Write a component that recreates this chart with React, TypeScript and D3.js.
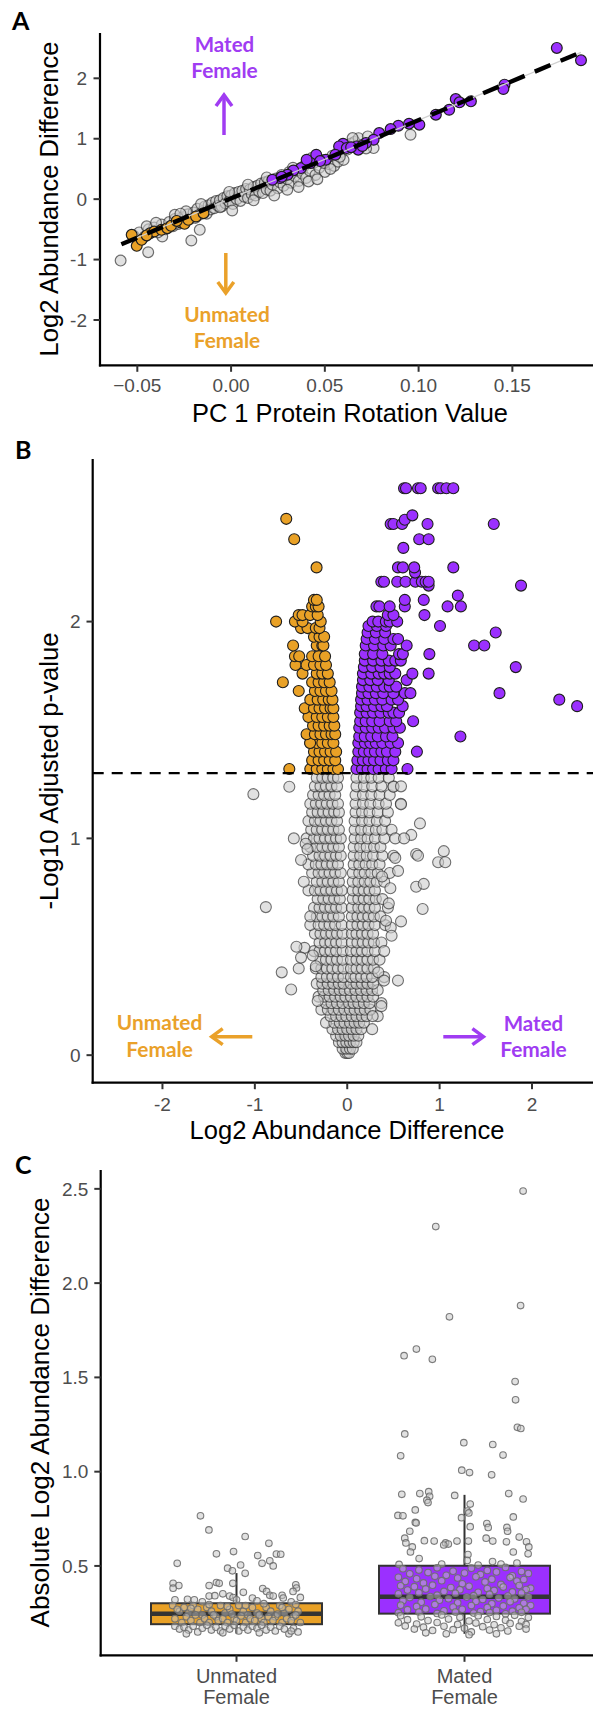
import React from "react";
import * as d3 from "d3";

// ---------------- Panel A data ----------------
const aTicksX = [-0.05, 0.0, 0.05, 0.1, 0.15];
const aTicksY = [-2, -1, 0, 1, 2];
const aFitLine = [[-0.0585, -0.746], [0.1866, 2.43]];
const aGray = [
  [-0.0589,-1.017],[-0.0442,-0.878],[-0.0367,-0.619],[-0.0212,-0.685],[-0.0167,-0.508],
  [-0.052,-0.6],[-0.049,-0.55],[-0.046,-0.62],[-0.044,-0.5],[-0.041,-0.47],[-0.039,-0.55],[-0.037,-0.42],
  [-0.035,-0.5],[-0.033,-0.38],[-0.031,-0.45],[-0.03,-0.33],[-0.028,-0.41],[-0.026,-0.3],[-0.025,-0.38],
  [-0.023,-0.25],[-0.022,-0.33],[-0.02,-0.22],[-0.019,-0.31],[-0.018,-0.16],[-0.017,-0.26],[-0.015,-0.2],
  [-0.014,-0.12],[-0.013,-0.24],[-0.012,-0.1],[-0.011,-0.17],[-0.01,-0.06],[-0.009,-0.15],[-0.008,-0.03],
  [-0.007,-0.11],[-0.006,-0.02],[-0.005,-0.12],[-0.004,0.02],[-0.003,-0.07],[-0.002,0.05],[-0.001,-0.04],
  [0.0,0.06],[0.001,-0.08],[0.002,0.1],[0.003,0.0],[0.004,0.12],[0.005,-0.03],[0.006,0.14],[0.007,0.04],
  [0.008,0.17],[0.009,0.02],[0.01,0.16],[0.011,0.08],[0.012,0.2],[0.013,0.06],[0.014,0.22],[0.015,0.12],
  [0.016,0.26],[0.017,0.1],[0.018,0.28],[0.019,0.16],[0.02,0.3],[0.021,0.14],[0.022,0.24],[0.024,0.34],
  [0.025,0.18],[0.026,0.28],[0.027,0.4],[0.028,0.22],[0.03,0.33],[0.031,0.45],[0.032,0.27],[0.034,0.38],
  [0.035,0.48],[0.036,0.3],[0.038,0.42],[0.039,0.55],[0.04,0.35],[0.042,0.47],[0.044,0.6],[0.045,0.4],
  [0.047,0.52],[0.049,0.65],[0.05,0.45],[0.052,0.58],[0.054,0.72],[0.055,0.55],[0.057,0.62],[0.059,0.78],
  [0.06,0.65],[0.062,0.82],[0.064,0.92],[0.066,0.95],[0.068,1.01],[0.0648,1.011],[0.0729,1.039],
  [0.076,0.845],[0.0957,1.066],[0.072,0.84],[0.07,0.9],[0.0495,0.597],[0.0413,0.293],[0.03,0.155],
  [0.0006,-0.188],[-0.0059,-0.133],[-0.024,-0.2],[-0.03,-0.26],[-0.045,-0.45],
  [-0.04,-0.39],[-0.027,-0.24],[-0.016,-0.08],[-0.001,0.12],[0.009,0.24],[0.019,0.36],[0.033,0.52],
  [0.043,0.68],[0.053,0.5],[0.058,0.7],[0.023,0.06],[0.012,-0.02],[0.036,0.2],[0.046,0.33]
];
const aOrange = [
  [-0.053,-0.591],[-0.0503,-0.773],[-0.0477,-0.674],[-0.0432,-0.564],[-0.041,-0.536],[-0.0371,-0.508],
  [-0.034,-0.48],[-0.032,-0.442],[-0.0269,-0.387],[-0.0248,-0.409],[-0.0228,-0.343],[-0.0187,-0.287],
  [-0.0147,-0.232],[-0.045,-0.6],[-0.029,-0.36]
];
const aPurple = [
  [0.1737,2.503],[0.1866,2.298],[0.1458,1.895],[0.1452,1.823],[0.1198,1.657],[0.1218,1.602],[0.1279,1.619],
  [0.1163,1.48],[0.1092,1.398],[0.1004,1.232],[0.0949,1.249],[0.0892,1.215],[0.0851,1.16],[0.079,1.094],
  [0.076,0.983],[0.0719,0.928],[0.0668,0.873],[0.0597,0.917],[0.0576,0.873],[0.0556,0.735],[0.0505,0.652],
  [0.0454,0.735],[0.0424,0.597],[0.0373,0.514],[0.0332,0.475],[0.0301,0.403],[0.0261,0.348],[0.022,0.32],
  [0.0678,0.818],[0.0617,0.845],[0.0403,0.652],[0.064,0.86],[0.07,0.88],[0.0475,0.63],[0.027,0.37]
];

// ---------------- Panel B data ----------------
const bTicksX = [-2, -1, 0, 1, 2];
const bTicksY = [0, 1, 2];
const bThreshold = 1.301;
const bGrayRows = [
  [0.01,[-0.02,0.0,0.02]],
  [0.03,[-0.05,-0.01,0.03,0.06]],
  [0.06,[-0.09,-0.05,-0.01,0.03,0.07,0.1]],
  [0.09,[-0.12,-0.07,-0.02,0.02,0.07,0.12]],
  [0.12,[-0.16,-0.1,-0.05,0.0,0.05,0.1,0.15,0.27]],
  [0.15,[-0.23,-0.14,-0.08,-0.03,0.03,0.08,0.13,0.18]],
  [0.18,[-0.18,-0.12,-0.06,-0.01,0.05,0.1,0.16,0.21,0.33]],
  [0.21,[-0.28,-0.21,-0.15,-0.09,-0.03,0.03,0.08,0.14,0.19,0.25]],
  [0.24,[-0.23,-0.17,-0.11,-0.05,0.02,0.07,0.12,0.18,0.24,0.37]],
  [0.27,[-0.31,-0.25,-0.19,-0.13,-0.07,-0.02,0.04,0.1,0.16,0.22,0.28]],
  [0.3,[-0.26,-0.2,-0.14,-0.08,-0.03,0.03,0.09,0.15,0.21,0.27,0.33]],
  [0.33,[-0.33,-0.27,-0.21,-0.15,-0.09,-0.04,0.04,0.1,0.16,0.22,0.28]],
  [0.36,[-0.28,-0.22,-0.16,-0.1,-0.04,0.04,0.09,0.15,0.21,0.27,0.4]],
  [0.4,[-0.34,-0.28,-0.22,-0.16,-0.1,-0.04,0.04,0.1,0.16,0.22,0.29]],
  [0.44,[-0.29,-0.23,-0.17,-0.11,-0.05,0.04,0.1,0.16,0.22,0.28,0.35]],
  [0.48,[-0.36,-0.3,-0.24,-0.18,-0.12,-0.05,0.04,0.1,0.16,0.22,0.3]],
  [0.52,[-0.3,-0.24,-0.18,-0.12,-0.06,0.05,0.11,0.17,0.23,0.29,0.37]],
  [0.56,[-0.35,-0.29,-0.23,-0.17,-0.11,-0.05,0.05,0.1,0.16,0.22,0.28]],
  [0.6,[-0.4,-0.31,-0.25,-0.19,-0.13,-0.06,0.05,0.11,0.17,0.23,0.3,0.41]],
  [0.64,[-0.33,-0.27,-0.21,-0.15,-0.09,0.05,0.11,0.17,0.23,0.29,0.36]],
  [0.68,[-0.36,-0.3,-0.24,-0.18,-0.12,-0.06,0.05,0.12,0.18,0.24,0.3,0.44]],
  [0.72,[-0.32,-0.26,-0.2,-0.14,-0.08,0.06,0.12,0.18,0.24,0.31,0.38]],
  [0.76,[-0.42,-0.35,-0.29,-0.23,-0.17,-0.11,-0.06,0.06,0.12,0.18,0.24,0.3]],
  [0.8,[-0.33,-0.27,-0.21,-0.15,-0.09,0.06,0.12,0.19,0.25,0.32,0.4]],
  [0.84,[-0.38,-0.31,-0.25,-0.19,-0.13,-0.07,0.06,0.13,0.19,0.26,0.33,0.46]],
  [0.88,[-0.42,-0.34,-0.28,-0.22,-0.16,-0.1,0.07,0.13,0.2,0.27,0.35]],
  [0.92,[-0.37,-0.3,-0.24,-0.18,-0.12,-0.07,0.07,0.14,0.21,0.28,0.38,0.5]],
  [0.96,[-0.4,-0.33,-0.27,-0.21,-0.15,-0.09,0.07,0.14,0.21,0.29,0.36]],
  [1.0,[-0.44,-0.36,-0.3,-0.24,-0.18,-0.12,-0.07,0.08,0.15,0.22,0.3,0.4]],
  [1.04,[-0.39,-0.33,-0.27,-0.21,-0.15,-0.09,0.08,0.15,0.23,0.31,0.38,0.48]],
  [1.08,[-0.42,-0.35,-0.29,-0.23,-0.17,-0.11,0.08,0.16,0.24,0.32,0.41]],
  [1.12,[-0.38,-0.32,-0.26,-0.2,-0.14,-0.09,0.09,0.16,0.24,0.33,0.44]],
  [1.16,[-0.4,-0.34,-0.28,-0.22,-0.16,-0.1,0.09,0.17,0.25,0.34,0.42,0.58]],
  [1.2,[-0.37,-0.31,-0.25,-0.19,-0.13,0.09,0.17,0.26,0.35,0.46]],
  [1.24,[-0.35,-0.29,-0.23,-0.17,-0.11,0.1,0.18,0.27,0.37,0.5]],
  [1.28,[-0.33,-0.27,-0.21,-0.15,-0.1,0.1,0.18,0.26,0.34,0.45]]
];
const bGrayOut = [
  [-1.016,1.204],[-0.627,1.238],[-0.881,0.683],[-0.578,1.0],[-0.45,0.975],[-0.43,0.95],[-0.463,0.495],
  [-0.373,0.46],[-0.34,0.41],[-0.709,0.382],[-0.525,0.4],[-0.607,0.303],[-0.32,0.25],[-0.4,0.64],
  [0.5,1.238],[0.582,1.24],[0.582,1.157],[0.787,1.069],[0.693,1.016],[0.52,1.0],[0.615,1.0],[1.045,0.941],
  [0.746,0.928],[0.766,0.92],[0.984,0.89],[1.061,0.89],[0.52,0.91],[0.746,0.777],[0.828,0.79],[0.467,0.77],
  [0.816,0.674],[0.582,0.617],[0.471,0.589],[0.48,0.551],[0.336,0.382],[0.549,0.344],[0.398,0.344],
  [0.369,0.226],[0.275,0.18],[-0.55,0.5],[-0.5,0.45],[0.4,0.48],[0.45,0.7],[0.55,0.85],[-0.47,0.8],
  [-0.5,0.9],[0.377,0.824],[0.42,0.62]
];
const bOrangeRows = [
  [1.32,[-0.4,-0.33,-0.27,-0.21,-0.15,-0.1,-0.627]],
  [1.36,[-0.38,-0.31,-0.25,-0.19,-0.13]],
  [1.4,[-0.36,-0.3,-0.24,-0.18,-0.12]],
  [1.44,[-0.4,-0.33,-0.27,-0.21,-0.15,-0.402]],
  [1.48,[-0.44,-0.35,-0.29,-0.23,-0.17,-0.13]],
  [1.52,[-0.37,-0.31,-0.25,-0.19,-0.14]],
  [1.56,[-0.42,-0.33,-0.27,-0.21,-0.15]],
  [1.6,[-0.46,-0.36,-0.3,-0.24,-0.18,-0.15]],
  [1.64,[-0.4,-0.32,-0.26,-0.2,-0.16]],
  [1.68,[-0.525,-0.35,-0.29,-0.23,-0.17]],
  [1.72,[-0.697,-0.38,-0.31,-0.25,-0.19]],
  [1.76,[-0.484,-0.33,-0.27,-0.21]],
  [1.8,[-0.56,-0.44,-0.36,-0.29,-0.23]],
  [1.84,[-0.566,-0.52,-0.38,-0.31,-0.24]],
  [1.89,[-0.586,-0.33,-0.27,-0.258]],
  [1.93,[-0.36,-0.3,-0.25]],
  [1.97,[-0.5,-0.43,-0.34,-0.3]],
  [2.0,[-0.77,-0.566,-0.484,-0.287]],
  [2.03,[-0.525,-0.484,-0.402,-0.32]],
  [2.07,[-0.38,-0.34,-0.31]],
  [2.1,[-0.36,-0.33]],
  [2.25,[-0.332]],
  [2.38,[-0.574]],
  [2.474,[-0.66]]
];
const bPurpleRows = [
  [1.32,[0.1,0.16,0.22,0.28,0.34,0.418,0.48,0.652]],
  [1.36,[0.11,0.17,0.23,0.29,0.36,0.44,0.5]],
  [1.4,[0.12,0.18,0.24,0.3,0.37,0.43,0.52,0.754]],
  [1.44,[0.12,0.19,0.25,0.31,0.38,0.47,0.55]],
  [1.47,[0.13,0.19,0.26,0.33,0.42,0.49,1.225]],
  [1.51,[0.13,0.2,0.27,0.34,0.41,0.5,0.57]],
  [1.54,[0.14,0.2,0.27,0.35,0.46,0.53,0.713]],
  [1.58,[0.14,0.21,0.28,0.36,0.45,0.5,0.561]],
  [1.61,[0.15,0.21,0.29,0.37,0.43,0.6,2.488]],
  [1.64,[0.15,0.22,0.3,0.38,0.48,0.55,2.295]],
  [1.67,[0.16,0.23,0.31,0.39,0.5,0.623,0.684,1.648]],
  [1.7,[0.16,0.24,0.32,0.4,0.46,0.53]],
  [1.73,[0.17,0.25,0.33,0.45,0.643]],
  [1.76,[0.17,0.26,0.34,0.4,0.46,0.52,0.705,0.881]],
  [1.79,[0.18,0.27,0.36,0.46,1.824]],
  [1.82,[0.19,0.28,0.37,0.45,0.52,0.58]],
  [1.85,[0.19,0.28,0.38,0.561,0.602,0.889]],
  [1.89,[0.2,0.29,0.39,0.47,0.643,1.373,1.484]],
  [1.92,[0.21,0.3,0.4,0.5,0.55]],
  [1.95,[0.22,0.31,0.41,1.607]],
  [1.98,[0.23,0.32,0.42,1.004]],
  [2.0,[0.275,0.336,0.418,0.459,0.541]],
  [2.03,[0.439,0.5,0.836]],
  [2.07,[0.316,0.348,0.459,0.623,1.086,1.23]],
  [2.1,[0.623,0.828]],
  [2.12,[1.197]],
  [2.166,[0.881,1.881]],
  [2.184,[0.369,0.398,0.541,0.631,0.738,0.807,0.848,0.881]],
  [2.226,[0.734]],
  [2.25,[0.549,0.602,0.725,1.148]],
  [2.34,[0.607]],
  [2.38,[0.779,0.881]],
  [2.45,[0.47,0.5,0.594,0.869,1.586]],
  [2.47,[0.623]],
  [2.49,[0.705]],
  [2.615,[0.615,0.636,0.766,0.795,0.984,1.012,1.074,1.148]]
];

// ---------------- Panel C data ----------------
const cCategories = [["Unmated", "Female"], ["Mated", "Female"]];
const cTicksY = [0.5, 1.0, 1.5, 2.0, 2.5];
const cBoxes = [
  { lo: 0.142, q1: 0.191, med: 0.247, q3: 0.302, hi: 0.462 },
  { lo: 0.14, q1: 0.247, med: 0.336, q3: 0.501, hi: 0.877 }
];
const cUnmated = [
  [-0.158,0.766],[-0.121,0.691],[0.038,0.656],[0.142,0.62],[-0.088,0.564],[-0.013,0.576],[0.093,0.555],
  [0.175,0.563],[0.194,0.562],[-0.26,0.514],[0.112,0.514],[0.146,0.527],[0.161,0.5],[0.018,0.505],
  [-0.039,0.488],[-0.018,0.474],[0.038,0.461],[-0.016,0.408],[-0.278,0.408],[-0.253,0.396],[-0.278,0.382],
  [-0.12,0.396],[-0.088,0.412],[-0.076,0.408],[0.115,0.38],[0.132,0.365],[0.146,0.344],[0.161,0.34],
  [0.26,0.4],[0.263,0.383],[0.248,0.365],[0.28,0.333],[0.2,0.344],[0.205,0.33],[-0.12,0.34],[-0.095,0.342],
  [-0.06,0.352],[-0.03,0.34],[-0.015,0.332],[-0.27,0.32],[-0.215,0.323],[-0.185,0.32],[0.03,0.36],
  [0.07,0.33],[0.09,0.315],[0.24,0.31],[-0.15,0.31],[0.0,0.32],
  [-0.28,0.29],[-0.25,0.26],[-0.23,0.28],[-0.21,0.25],[-0.19,0.29],[-0.17,0.27],[-0.15,0.24],[-0.13,0.28],
  [-0.11,0.26],[-0.09,0.23],[-0.07,0.29],[-0.05,0.25],[-0.03,0.27],[-0.01,0.22],[0.01,0.29],[0.03,0.26],
  [0.05,0.24],[0.07,0.28],[0.09,0.25],[0.11,0.22],[0.13,0.28],[0.15,0.26],[0.17,0.23],[0.19,0.29],
  [0.21,0.25],[0.23,0.27],[0.25,0.23],[0.27,0.26],
  [-0.27,0.22],[-0.24,0.2],[-0.22,0.23],[-0.2,0.21],[-0.18,0.24],[-0.16,0.2],[-0.14,0.22],[-0.12,0.2],
  [-0.1,0.24],[-0.08,0.21],[-0.06,0.22],[-0.04,0.2],[-0.02,0.245],[0.0,0.21],[0.02,0.235],[0.04,0.2],
  [0.06,0.22],[0.08,0.21],[0.1,0.24],[0.12,0.2],[0.14,0.23],[0.16,0.21],[0.18,0.245],[0.2,0.2],
  [0.22,0.22],[0.24,0.21],[0.26,0.24],[0.28,0.2],
  [-0.26,0.27],[-0.2,0.275],[-0.12,0.295],[-0.04,0.285],[0.04,0.29],[0.12,0.3],[0.2,0.28],[0.26,0.295],
  [-0.27,0.18],[-0.25,0.165],[-0.23,0.175],[-0.21,0.16],[-0.19,0.18],[-0.17,0.15],[-0.15,0.17],
  [-0.13,0.185],[-0.11,0.16],[-0.09,0.175],[-0.07,0.155],[-0.05,0.18],[-0.03,0.165],[-0.01,0.185],
  [0.01,0.155],[0.03,0.175],[0.05,0.16],[0.07,0.18],[0.09,0.17],[0.11,0.185],[0.13,0.16],[0.15,0.175],
  [0.17,0.155],[0.19,0.18],[0.21,0.165],[0.23,0.14],[0.25,0.17],[0.27,0.15],[-0.22,0.14],[-0.06,0.145],
  [0.1,0.145],[0.24,0.155]
];
const cMated = [
  [0.257,2.488],[-0.126,2.3],[0.246,1.881],[-0.066,1.821],[-0.211,1.65],[-0.265,1.615],[-0.141,1.596],
  [0.222,1.478],[0.224,1.381],[0.232,1.235],[0.247,1.229],[-0.262,1.2],[-0.003,1.154],[0.124,1.144],
  [0.169,1.088],[-0.28,1.084],[-0.012,1.008],[0.022,0.995],[0.119,0.983],[-0.275,0.88],[-0.196,0.884],
  [-0.157,0.894],[-0.153,0.869],[-0.165,0.849],[-0.16,0.836],[-0.043,0.874],[0.194,0.884],[0.257,0.855],
  [0.025,0.828],[0.012,0.791],[0.019,0.781],[-0.216,0.797],[-0.292,0.768],[-0.27,0.766],[-0.013,0.756],
  [0.214,0.76],[-0.216,0.731],[-0.212,0.728],[0.025,0.708],[0.098,0.725],[0.104,0.704],[0.186,0.704],
  [0.189,0.684],[-0.24,0.684],[0.24,0.653],[0.272,0.628],[0.095,0.647],[0.124,0.632],[-0.262,0.647],
  [-0.257,0.622],[-0.176,0.634],[-0.133,0.632],[-0.083,0.622],[-0.071,0.616],[-0.091,0.611],[-0.033,0.632],
  [0.017,0.632],[0.184,0.628],[0.282,0.601],[-0.229,0.601],[-0.237,0.574],[0.214,0.574],[0.279,0.564],
  [-0.199,0.539],[0.015,0.56],[0.012,0.529],[0.123,0.523],[-0.287,0.508],[-0.1,0.51],[0.06,0.505],
  [0.16,0.51],[0.23,0.515],
  [-0.27,0.485],[-0.2,0.478],[-0.12,0.49],[-0.05,0.472],[0.03,0.488],[0.1,0.476],[0.18,0.492],[0.25,0.47],
  [-0.24,0.458],[-0.16,0.465],[-0.08,0.45],[0.0,0.462],[0.07,0.455],[0.14,0.468],[0.21,0.448],[0.28,0.46],
  [-0.29,0.44],[-0.21,0.432],[-0.13,0.445],[-0.03,0.436],[0.05,0.442],[0.12,0.43],[0.2,0.438],[0.26,0.428],
  [-0.26,0.418],[-0.18,0.41],[-0.1,0.422],[-0.01,0.405],[0.09,0.415],[0.16,0.402],[0.23,0.42],
  [-0.28,0.395],[-0.22,0.39],[-0.14,0.398],[-0.06,0.385],[0.02,0.392],[0.1,0.38],[0.17,0.388],[0.24,0.396],
  [0.29,0.382],[-0.25,0.372],[-0.17,0.378],[-0.09,0.365],[-0.02,0.374],[0.06,0.36],[0.13,0.37],[0.21,0.362],
  [0.27,0.375],[-0.29,0.352],[-0.2,0.358],[-0.12,0.345],[-0.04,0.355],[0.04,0.342],[0.11,0.35],[0.19,0.34],
  [0.25,0.356],[-0.24,0.332],[-0.15,0.338],[-0.07,0.326],[0.01,0.335],[0.08,0.322],[0.15,0.33],[0.22,0.325],
  [0.28,0.336],[-0.27,0.315],[-0.19,0.308],[-0.11,0.318],[-0.03,0.305],[0.05,0.312],[0.12,0.3],[0.2,0.31],
  [0.26,0.302],[-0.28,0.292],[-0.21,0.285],[-0.13,0.295],[-0.05,0.282],[0.03,0.29],[0.1,0.28],[0.17,0.288],
  [0.24,0.278],[0.29,0.29],[-0.25,0.268],[-0.17,0.272],[-0.09,0.262],[-0.01,0.27],[0.07,0.258],[0.14,0.265],
  [0.21,0.26],[0.27,0.27],[-0.29,0.252],[-0.2,0.255],[-0.12,0.248],[-0.04,0.255],[0.04,0.25],[0.11,0.253],
  [0.18,0.246],[0.25,0.254],
  [-0.28,0.236],[-0.19,0.23],[-0.1,0.24],[-0.02,0.228],[0.06,0.236],[0.14,0.232],[0.22,0.238],[0.28,0.226],
  [-0.25,0.215],[-0.16,0.21],[-0.07,0.218],[0.02,0.208],[0.1,0.216],[0.18,0.212],[0.25,0.205],
  [-0.29,0.198],[-0.21,0.192],[-0.12,0.2],[-0.03,0.19],[0.05,0.197],[0.13,0.188],[0.2,0.195],[0.27,0.19],
  [-0.26,0.182],[-0.18,0.175],[-0.09,0.18],[0.0,0.17],[0.08,0.178],[0.16,0.172],[0.24,0.18],
  [-0.22,0.165],[-0.14,0.158],[-0.05,0.162],[0.03,0.15],[0.11,0.16],[0.19,0.155],[0.27,0.165],
  [-0.17,0.145],[-0.08,0.14],[0.02,0.135],[0.14,0.14]
];

// ---------------- styling ----------------
const PURPLE = "#9B30FF";
const ORANGE = "#E9A126";
const PURPLE_TXT = "#A03CF2";
const ORANGE_TXT = "#EAA12A";
const SANS = "Liberation Sans, Arimo, Arial, Helvetica, sans-serif";
const BOLD = "Lato, Open Sans, sans-serif";
const TICK = "#4d4d4d";
const TICK_FS = 19;
const TITLE_FS = 25.5;

const flat = (rows) => rows.flatMap(([y, xs]) => xs.map((x) => [x, y]));

function T(props) {
  const { children, style, ...rest } = props;
  return (
    <text {...rest} style={{ fontFamily: SANS, ...(style || {}) }}>
      {children}
    </text>
  );
}

function Arrow({ x1, y1, x2, y2, color }) {
  const dx = x2 - x1, dy = y2 - y1;
  const L = Math.hypot(dx, dy);
  const ux = dx / L, uy = dy / L;
  const nx = -uy, ny = ux;
  const hl = 11, hw = 8;
  const bx = x2 - ux * hl, by = y2 - uy * hl;
  return (
    <g stroke={color} strokeWidth={3.5} fill="none">
      <line x1={x1} y1={y1} x2={x2 - ux * 1.5} y2={y2 - uy * 1.5} />
      <polyline
        points={`${bx + nx * hw},${by + ny * hw} ${x2},${y2} ${bx - nx * hw},${by - ny * hw}`}
        strokeLinejoin="miter"
      />
    </g>
  );
}

const LABEL_W = { Mated: 59.5, Female: 66.5, Unmated: 85.5 };

function Label2({ x, y1, y2, lines, color }) {
  const st = { fontFamily: BOLD, fontWeight: 700, fontSize: 20.5 };
  return (
    <g fill={color} textAnchor="middle">
      <text x={x} y={y1} style={st} textLength={LABEL_W[lines[0]]} lengthAdjust="spacingAndGlyphs">{lines[0]}</text>
      <text x={x} y={y2} style={st} textLength={LABEL_W[lines[1]]} lengthAdjust="spacingAndGlyphs">{lines[1]}</text>
    </g>
  );
}

function Dots({ data, sx, sy, r, fill, stroke, sw, k }) {
  return (
    <g>
      {data.map((d, i) => (
        <circle key={k + i} cx={sx(d[0])} cy={sy(d[1])} r={r} fill={fill} stroke={stroke} strokeWidth={sw} />
      ))}
    </g>
  );
}

export default function App() {
  const ax = d3.scaleLinear().domain([-0.0699, 0.193]).range([100, 593]);
  const ay = d3.scaleLinear().domain([-2.75, 2.75]).range([365.3, 33]);
  const bx = d3.scaleLinear().domain([-2.755, 2.66]).range([92.7, 593]);
  const by = d3.scaleLinear().domain([-0.127, 2.75]).range([1082.7, 459]);
  const cx = d3.scaleLinear().domain([0, 1]).range([236.5, 464.5]);
  const cy = d3.scaleLinear().domain([0.026, 2.6]).range([1655.3, 1170]);
  const boxHalf = (cx(1) - cx(0)) * 0.375;

  const grayFill = "rgba(205,205,205,0.6)";
  const grayStroke = "rgba(40,40,40,0.65)";
  const colStroke = "#1e1e1e";

  const bGray = flat(bGrayRows).concat(bGrayOut);
  const bOrange = flat(bOrangeRows);
  const bPurple = flat(bPurpleRows);

  const line = d3.line().x((d) => ax(d[0])).y((d) => ay(d[1]));
  const letter = { fontFamily: BOLD, fontWeight: 700, fontSize: 25 };
  const adj = "spacingAndGlyphs";

  return (
    <svg
      width={593}
      height={1710}
      style={{ position: "absolute", left: 0, top: 0, background: "#fff", fontFamily: SANS }}
    >
      <rect x={0} y={0} width={593} height={1710} fill="#fff" />

      {/* ================= Panel A ================= */}
      <text x={12} y={30} style={letter}>A</text>
      <Dots data={aGray} sx={ax} sy={ay} r={5.4} fill={grayFill} stroke={grayStroke} sw={1.2} k="ag" />
      <Dots data={aOrange} sx={ax} sy={ay} r={5.4} fill={ORANGE} stroke={colStroke} sw={1.2} k="ao" />
      <Dots data={aPurple} sx={ax} sy={ay} r={5.4} fill={PURPLE} stroke={colStroke} sw={1.2} k="ap" />
      <path d={line(aFitLine)} stroke="#cfcfcf" strokeWidth={1.2} fill="none" />
      <path d={line(aFitLine)} stroke="#000" strokeWidth={4.4} strokeDasharray="17 11" fill="none" />
      <line x1={100} y1={33} x2={100} y2={366.4} stroke="#000" strokeWidth={2.2} />
      <line x1={98.9} y1={365.3} x2={593} y2={365.3} stroke="#000" strokeWidth={2.2} />
      {aTicksY.map((t) => (
        <g key={"ayt" + t}>
          <line x1={93.5} x2={100} y1={ay(t)} y2={ay(t)} stroke="#333" strokeWidth={2} />
          <T x={87} y={ay(t)} dy="0.35em" textAnchor="end" fontSize={TICK_FS} fill={TICK}>{t}</T>
        </g>
      ))}
      {aTicksX.map((t) => (
        <g key={"axt" + t}>
          <line x1={ax(t)} x2={ax(t)} y1={365.3} y2={371.8} stroke="#333" strokeWidth={2} />
          <T x={ax(t)} y={392} textAnchor="middle" fontSize={TICK_FS} fill={TICK}>{d3.format(".2f")(t)}</T>
        </g>
      ))}
      <T x={350} y={421.7} textAnchor="middle" fontSize={TITLE_FS} fill="#000" textLength={316} lengthAdjust={adj}>PC 1 Protein Rotation Value</T>
      <T transform={`translate(58,199) rotate(-90)`} textAnchor="middle" fontSize={TITLE_FS} fill="#000" textLength={315} lengthAdjust={adj}>Log2 Abundance Difference</T>
      <Label2 x={224.5} y1={51.7} y2={78} lines={["Mated", "Female"]} color={PURPLE_TXT} />
      <Arrow x1={224} y1={135} x2={224} y2={95} color={PURPLE_TXT} />
      <Arrow x1={225.8} y1={253} x2={225.8} y2={293} color={ORANGE_TXT} />
      <Label2 x={227} y1={321.7} y2={348.3} lines={["Unmated", "Female"]} color={ORANGE_TXT} />

      {/* ================= Panel B ================= */}
      <text x={15} y={459} style={letter}>B</text>
      <Dots data={bGray} sx={bx} sy={by} r={5.5} fill={grayFill} stroke={grayStroke} sw={1.1} k="bg" />
      <Dots data={bOrange} sx={bx} sy={by} r={5.5} fill={ORANGE} stroke={colStroke} sw={1.1} k="bo" />
      <Dots data={bPurple} sx={bx} sy={by} r={5.5} fill={PURPLE} stroke={colStroke} sw={1.1} k="bp" />
      <line x1={92.7} x2={593} y1={by(bThreshold)} y2={by(bThreshold)} stroke="#000" strokeWidth={2.2} strokeDasharray="11 8" />
      <line x1={92.7} y1={459} x2={92.7} y2={1083.8} stroke="#000" strokeWidth={2.2} />
      <line x1={91.6} y1={1082.7} x2={593} y2={1082.7} stroke="#000" strokeWidth={2.2} />
      {bTicksY.map((t) => (
        <g key={"byt" + t}>
          <line x1={86.5} x2={92.7} y1={by(t)} y2={by(t)} stroke="#333" strokeWidth={2} />
          <T x={80.7} y={by(t)} dy="0.35em" textAnchor="end" fontSize={TICK_FS} fill={TICK}>{t}</T>
        </g>
      ))}
      {bTicksX.map((t) => (
        <g key={"bxt" + t}>
          <line x1={bx(t)} x2={bx(t)} y1={1082.7} y2={1089.2} stroke="#333" strokeWidth={2} />
          <T x={bx(t)} y={1110.5} textAnchor="middle" fontSize={TICK_FS} fill={TICK}>{t}</T>
        </g>
      ))}
      <T x={347} y={1139} textAnchor="middle" fontSize={TITLE_FS} fill="#000" textLength={315} lengthAdjust={adj}>Log2 Abundance Difference</T>
      <T transform={`translate(58,771) rotate(-90)`} textAnchor="middle" fontSize={TITLE_FS} fill="#000" textLength={277} lengthAdjust={adj}>-Log10 Adjusted p-value</T>
      <Label2 x={159.6} y1={1030} y2={1056.7} lines={["Unmated", "Female"]} color={ORANGE_TXT} />
      <Arrow x1={252.3} y1={1036.7} x2={211.7} y2={1036.7} color={ORANGE_TXT} />
      <Arrow x1={443.3} y1={1036.7} x2={483.4} y2={1036.7} color={PURPLE_TXT} />
      <Label2 x={533.5} y1={1030.5} y2={1057} lines={["Mated", "Female"]} color={PURPLE_TXT} />

      {/* ================= Panel C ================= */}
      <text x={15} y={1174} style={letter}>C</text>
      {cBoxes.map((b, i) => (
        <g key={"box" + i}>
          <line x1={cx(i)} x2={cx(i)} y1={cy(b.hi)} y2={cy(b.lo)} stroke="#333" strokeWidth={2} />
          <rect
            x={cx(i) - boxHalf}
            y={cy(b.q3)}
            width={boxHalf * 2}
            height={cy(b.q1) - cy(b.q3)}
            fill={i === 0 ? ORANGE : PURPLE}
            stroke="#333"
            strokeWidth={2}
          />
          <line x1={cx(i) - boxHalf} x2={cx(i) + boxHalf} y1={cy(b.med)} y2={cy(b.med)} stroke="#333" strokeWidth={4.5} />
        </g>
      ))}
      {[cUnmated, cMated].map((arr, i) => (
        <g key={"jit" + i}>
          {arr.map((d, j) => (
            <circle
              key={j}
              cx={cx(i + d[0])}
              cy={cy(d[1])}
              r={3.3}
              fill="rgba(195,195,195,0.5)"
              stroke="rgba(110,110,110,0.9)"
              strokeWidth={1.1}
            />
          ))}
        </g>
      ))}
      <line x1={100.7} y1={1170} x2={100.7} y2={1656.4} stroke="#000" strokeWidth={2.2} />
      <line x1={99.6} y1={1655.3} x2={593} y2={1655.3} stroke="#000" strokeWidth={2.2} />
      {cTicksY.map((t) => (
        <g key={"cyt" + t}>
          <line x1={94.3} x2={100.7} y1={cy(t)} y2={cy(t)} stroke="#333" strokeWidth={2} />
          <T x={88.3} y={cy(t)} dy="0.35em" textAnchor="end" fontSize={TICK_FS} fill={TICK}>{d3.format(".1f")(t)}</T>
        </g>
      ))}
      {cCategories.map((c, i) => (
        <g key={"cat" + i}>
          <line x1={cx(i)} x2={cx(i)} y1={1655.3} y2={1661.8} stroke="#333" strokeWidth={2} />
          <T x={cx(i)} y={1683.3} textAnchor="middle" fontSize={20} fill={TICK}>{c[0]}</T>
          <T x={cx(i)} y={1704} textAnchor="middle" fontSize={20} fill={TICK}>{c[1]}</T>
        </g>
      ))}
      <T transform={`translate(48.5,1412.5) rotate(-90)`} textAnchor="middle" fontSize={TITLE_FS} fill="#000" textLength={430} lengthAdjust={adj}>Absolute Log2 Abundance Difference</T>
    </svg>
  );
}
